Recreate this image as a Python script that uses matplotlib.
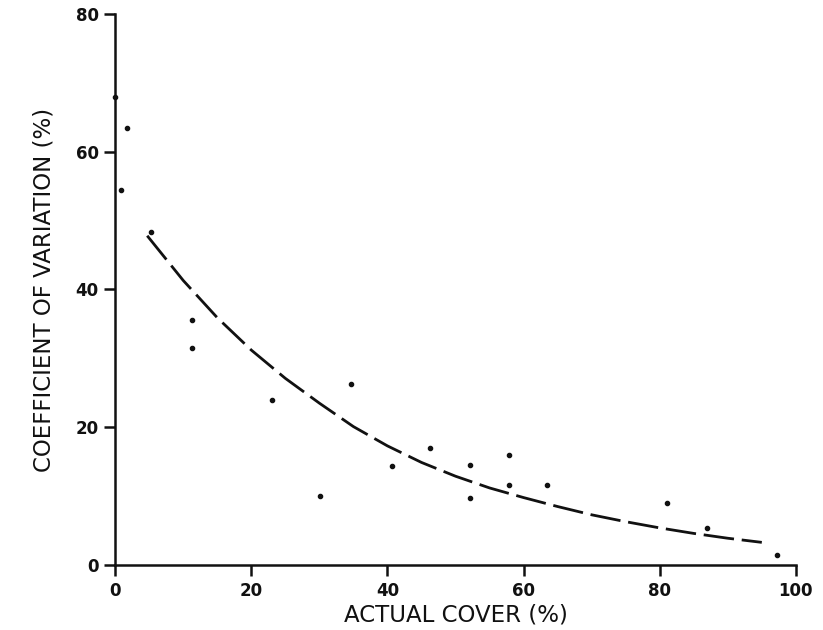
import matplotlib
matplotlib.use("Agg")
import matplotlib.pyplot as plt

# observed points (actual cover %, coefficient of variation %)
cover = [0.0, 1.8, 0.9, 5.3, 11.3, 11.3, 23.1, 34.7, 30.1, 40.6, 46.3,
         52.1, 52.1, 57.8, 57.8, 63.5, 81.0, 86.9, 97.2]
cv = [67.9, 63.4, 54.5, 48.3, 35.5, 31.5, 24.0, 26.3, 10.0, 14.4, 17.0,
      14.5, 9.7, 16.0, 11.6, 11.6, 9.0, 5.4, 1.5]

# fitted curve
fit_x = [4.7, 10, 15, 20, 25, 30, 35, 40, 45, 50, 55, 60, 65, 70, 75, 80, 85, 90, 95]
fit_y = [47.8, 41.3, 35.9, 31.2, 27.1, 23.5, 20.1, 17.3, 14.9, 12.9, 11.2,
         9.8, 8.5, 7.3, 6.3, 5.4, 4.6, 3.9, 3.3]

xticks = [0, 20, 40, 60, 80, 100]
yticks = [0, 20, 40, 60, 80]

fig = plt.figure(figsize=(8.23, 6.3), dpi=100)
ax = fig.add_axes([0.140, 0.103, 0.827, 0.875])

ax.plot(fit_x, fit_y, color="#111111", lw=2.0, dashes=(11, 2.8),
        dash_capstyle="butt", dash_joinstyle="round")
ax.plot(cover, cv, "o", color="#111111", ms=3.0, clip_on=False)

ax.set_xlim(0, 100)
ax.set_ylim(0, 80)
ax.set_xticks(xticks)
ax.set_yticks(yticks)

for side in ["top", "right"]:
    ax.spines[side].set_visible(False)
for side in ["left", "bottom"]:
    ax.spines[side].set_linewidth(1.8)
    ax.spines[side].set_color("#111111")

ax.tick_params(direction="out", length=8, width=1.8, color="#111111",
               labelsize=12, pad=4)
for lbl in ax.get_xticklabels() + ax.get_yticklabels():
    lbl.set_fontweight("bold")
    lbl.set_color("#111111")

ax.set_xlabel("ACTUAL COVER (%)", fontsize=16.5, color="#111111", labelpad=3)
ax.set_ylabel("COEFFICIENT OF VARIATION (%)", fontsize=16.5, color="#111111",
              labelpad=14)

fig.savefig("out.png", dpi=100, facecolor="white")
